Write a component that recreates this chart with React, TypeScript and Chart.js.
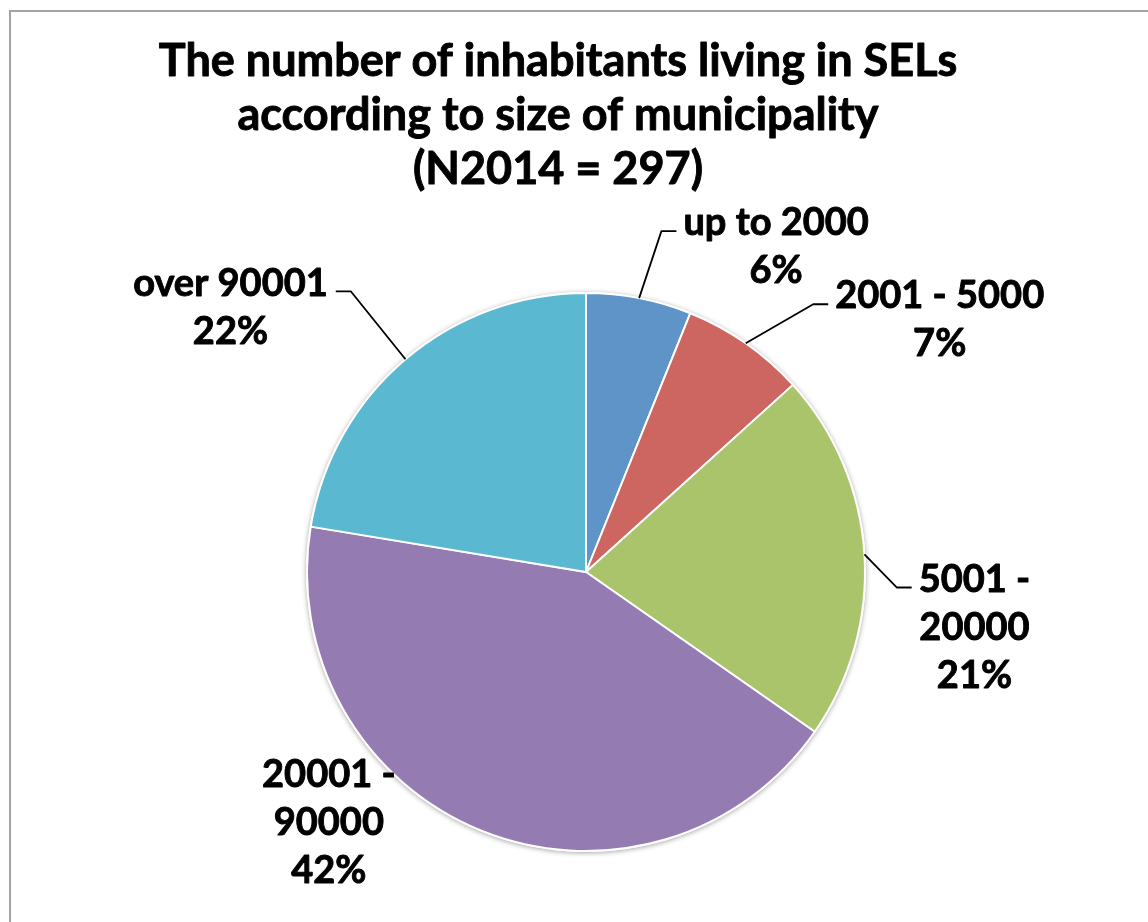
import React, { useEffect, useRef } from 'react';
import { Chart, registerables } from 'chart.js';

Chart.register(...registerables);

const TITLE_LINES = [
  'The number of inhabitants living in SELs',
  'according to size of municipality',
  '(N2014 = 297)',
];
const CATEGORIES = ['up to 2000', '2001 - 5000', '5001 - 20000', '20001 - 90000', 'over 90001'];
const LABEL_LINES = [['up to 2000'], ['2001 - 5000'], ['5001 -', '20000'], ['20001 -', '90000'], ['over 90001']];
const SHARES = [6.1, 7.2, 21.4, 42.9, 22.4];
const PERCENT_LABELS = ['6%', '7%', '21%', '42%', '22%'];
const COLORS = ['#5E94C8', '#CD6560', '#A9C46B', '#947BB2', '#5BB8D1'];

// styling: label block centre offset from the slice's outer mid-point
const LABEL_OFFSETS = [
  [137, -51],
  [194, -23],
  [110, 73],
  [-152, -8],
  [-175, -52],
];
const SHOW_LEADER = [true, true, true, false, true];

const FONT_FAMILY = 'Lato, "Open Sans", sans-serif';

function boldText(ctx: CanvasRenderingContext2D, t: string, x: number, y: number) {
  ctx.lineWidth = 0.9;
  ctx.lineJoin = 'round';
  ctx.strokeText(t, x, y);
  ctx.fillText(t, x, y);
}

const framePlugin = {
  id: 'frame',
  beforeDraw(chart: any) {
    const ctx = chart.ctx;
    ctx.save();
    ctx.fillStyle = '#ffffff';
    ctx.fillRect(0, 0, chart.width, chart.height);
    ctx.strokeStyle = '#a3a3a3';
    ctx.lineWidth = 2;
    ctx.beginPath();
    ctx.moveTo(10, chart.height);
    ctx.lineTo(10, 11);
    ctx.lineTo(chart.width, 11);
    ctx.stroke();
    // title
    ctx.fillStyle = '#000000';
    ctx.strokeStyle = '#000000';
    ctx.font = `bold 45px ${FONT_FAMILY}`;
    ctx.textAlign = 'center';
    ctx.textBaseline = 'middle';
    TITLE_LINES.forEach((t, i) => boldText(ctx, t, 558, 61 + i * 54));
    ctx.restore();
  },
  beforeDatasetsDraw(chart: any) {
    const meta = chart.getDatasetMeta(0);
    const arc = meta.data[0];
    if (!arc) return;
    const { x, y, outerRadius } = arc.getProps(['x', 'y', 'outerRadius'], true);
    const ctx = chart.ctx;
    ctx.save();
    ctx.shadowColor = 'rgba(0,0,0,0.35)';
    ctx.shadowBlur = 5;
    ctx.shadowOffsetX = 0;
    ctx.shadowOffsetY = 1;
    ctx.fillStyle = '#ffffff';
    ctx.beginPath();
    ctx.arc(x, y, outerRadius + 1, 0, Math.PI * 2);
    ctx.fill();
    ctx.restore();
  },
  afterDatasetsDraw(chart: any) {
    const meta = chart.getDatasetMeta(0);
    const ctx = chart.ctx;
    ctx.save();
    ctx.font = `bold 38px ${FONT_FAMILY}`;
    ctx.textAlign = 'center';
    ctx.textBaseline = 'middle';
    ctx.fillStyle = '#000000';
    ctx.strokeStyle = '#000000';
    const lineH = 48;
    meta.data.forEach((el: any, i: number) => {
      const { x, y, startAngle, endAngle, outerRadius } = el.getProps(
        ['x', 'y', 'startAngle', 'endAngle', 'outerRadius'],
        true
      );
      const mid = (startAngle + endAngle) / 2;
      const ex = x + Math.cos(mid) * outerRadius;
      const ey = y + Math.sin(mid) * outerRadius;
      const [ox, oy] = LABEL_OFFSETS[i];
      const cx = ex + ox;
      const cy = ey + oy;
      const lines = [...LABEL_LINES[i], PERCENT_LABELS[i]];
      const firstY = cy - ((lines.length - 1) * lineH) / 2;
      lines.forEach((t, k) => boldText(ctx, t, cx, firstY + k * lineH));
      if (SHOW_LEADER[i]) {
        const w0 = ctx.measureText(lines[0]).width;
        const ly = firstY + 8;
        let hx: number, bx: number;
        if (ox > 0) {
          hx = cx - w0 / 2 - 7;
          bx = hx - 15;
        } else {
          hx = cx + w0 / 2 + 8;
          bx = hx + 15;
        }
        ctx.lineWidth = 1.8;
        ctx.beginPath();
        ctx.moveTo(ex, ey);
        ctx.lineTo(bx, ly);
        ctx.lineTo(hx, ly);
        ctx.stroke();
      }
    });
    ctx.restore();
  },
};

export default function App() {
  const ref = useRef<HTMLCanvasElement | null>(null);
  useEffect(() => {
    if (!ref.current) return;
    const chart = new Chart(ref.current, {
      type: 'pie',
      data: {
        labels: CATEGORIES,
        datasets: [
          {
            data: SHARES,
            backgroundColor: COLORS,
            borderColor: '#ffffff',
            borderWidth: 2,
          },
        ],
      },
      options: {
        responsive: false,
        animation: false,
        devicePixelRatio: 1,
        layout: { padding: { left: 306, right: 282, top: 292, bottom: 70 } },
        plugins: {
          legend: { display: false },
          title: { display: false },
          tooltip: { enabled: false },
        },
      },
      plugins: [framePlugin],
    });
    return () => chart.destroy();
  }, []);
  return (
    <div style={{ position: 'absolute', left: 0, top: 0, width: 1148, height: 922 }}>
      <canvas ref={ref} width={1148} height={922} style={{ display: 'block' }} />
    </div>
  );
}
